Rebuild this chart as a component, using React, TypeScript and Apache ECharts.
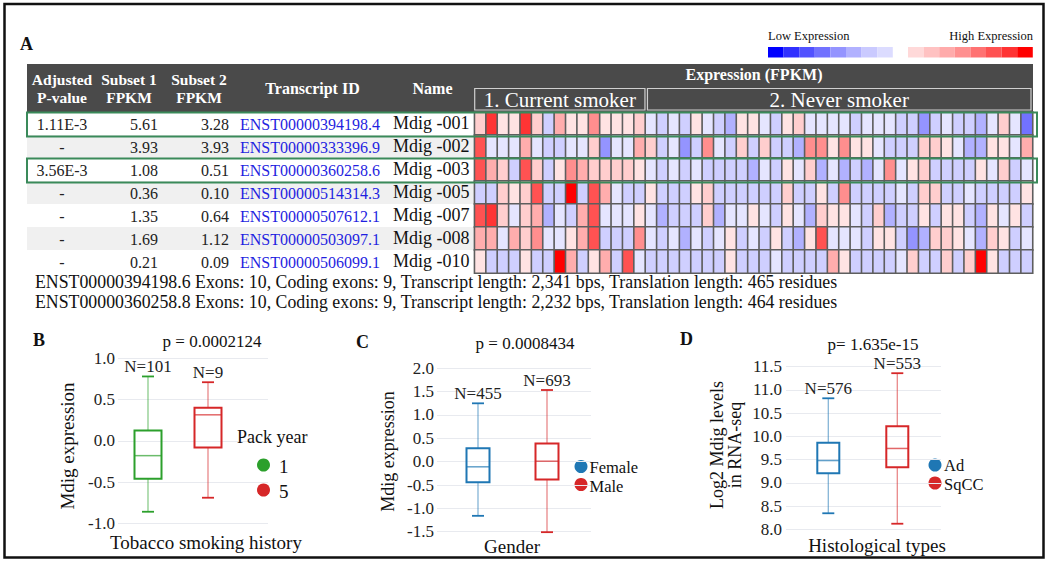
import React, { useEffect, useRef } from 'react';
import * as echarts from 'echarts';

// ---------- Panel A: table ----------
const pValues = ['1.11E-3', '-', '3.56E-3', '-', '-', '-', '-'];
const subset1Fpkm = ['5.61', '3.93', '1.08', '0.36', '1.35', '1.69', '0.21'];
const subset2Fpkm = ['3.28', '3.93', '0.51', '0.10', '0.64', '1.12', '0.09'];
const transcriptIds = [
  'ENST00000394198.4', 'ENST00000333396.9', 'ENST00000360258.6', 'ENST00000514314.3',
  'ENST00000507612.1', 'ENST00000503097.1', 'ENST00000506099.1',
];
const transcriptNames = ['Mdig -001', 'Mdig -002', 'Mdig -003', 'Mdig -005', 'Mdig -007', 'Mdig -008', 'Mdig -010'];
const highlightedRows = [0, 2];
const groupLabels = ['1. Current smoker', '2. Never smoker'];
const groupSizes = [15, 34];
const noteLines = [
  'ENST00000394198.6 Exons: 10, Coding exons: 9, Transcript length: 2,341 bps, Translation length: 465 residues',
  'ENST00000360258.8 Exons: 10, Coding exons: 9, Transcript length: 2,232 bps, Translation length: 464 residues',
];

// expression level per sample (negative = low / blue, positive = high / red)
const levels001 = [2, 6, 1, 1, 6, 2, -1, 3, 1, 1, 4, 1, 1, 1, 2, 0, -1, 0, -1, 1, 0, -1, -2, 1, 1, 0, -1, 1, 2, 0, 0, 0, 0, -1, 0, 0, 0, -1, -1, -3, -1, 0, -1, -1, -2, 0, 2, 0, -4];
const levels002 = [5, 0, 0, 0, 3, 0, -1, -1, 0, 0, 2, -3, 0, 0, 3, 2, -1, 0, -3, -1, 4, 0, -1, 2, -1, 2, -1, -1, -2, 4, 4, 1, 4, 1, 1, 0, -1, -1, -1, 2, 2, 1, 0, -2, -2, 1, 1, 0, 3];
const levels003 = [5, 3, 2, -1, 5, 2, -1, 1, 4, 3, 2, 2, 2, 2, 1, 0, -1, 0, -1, 0, -1, -1, -1, -1, -2, 0, -1, 1, 0, 2, -2, 0, -2, -1, -2, 0, 4, 0, 1, 2, -1, -1, -1, -1, 1, 0, 2, -1, 0];
const levels005 = [-1, -1, 2, 1, 2, 5, -1, -1, 7, -1, 5, 3, 0, -1, -1, 1, -1, -1, -1, 1, 2, -1, -1, -1, -1, -1, -1, 2, -1, -1, 1, -1, 4, -1, -1, -1, -1, 0, -1, 2, 2, -1, -1, 0, -1, -1, -1, -1, 1];
const levels007 = [5, 6, 2, 0, 2, 3, -2, 0, -1, 3, 5, 0, 0, 0, 1, 0, -2, -1, -1, -1, 2, -2, 0, 0, 1, 0, -1, 1, 0, -2, 2, 1, 1, 0, -1, 2, -2, -1, -1, 1, -1, 1, 1, -1, -2, 1, 0, 1, -1];
const levels008 = [3, 3, 0, 3, 2, 4, 0, 0, 1, 3, 5, -1, -1, -1, 4, 0, -1, 0, -2, 0, -1, 0, 1, -1, 0, -1, 1, -1, -2, 1, 5, 0, 0, 0, -1, 1, 1, -1, -3, -2, 2, 2, 1, 0, -2, 2, 1, -1, 0];
const levels010 = [1, -1, -1, -1, 1, -1, -1, 7, 3, -1, 1, 3, -1, 5, 0, -1, -1, -1, -1, -1, -1, -1, 1, -1, -1, -1, 0, -1, -1, -1, -1, 3, 1, -1, -1, -1, -1, 0, 2, -1, -1, 2, -1, 2, 7, 1, -1, -1, -1];
const heatRows = [levels001, levels002, levels003, levels005, levels007, levels008, levels010];

const levelValues = [-4, -3, -2, -1, 0, 1, 2, 3, 4, 5, 6, 7];
const levelColors = ['#7272ff', '#9494ff', '#b1b1ff', '#cfcfff', '#e5e5ff', '#ffe3e3', '#ffcece', '#ffadad', '#ff8e8e', '#ff5252', '#ff3434', '#ff0000'];
const legendLow = ['#0000ff', '#3030ff', '#5252ff', '#7272ff', '#9494ff', '#b1b1ff', '#cacaff', '#dcdcff'];
const legendHigh = ['#ffd9d9', '#ffc2c2', '#ffabab', '#ff9090', '#ff7272', '#ff5252', '#ff3333', '#ff0000'];

// ---------- Panel B ----------
const bCategories = ['1', '5'];
const bBoxes = [
  [-0.86, -0.46, -0.18, 0.125, 0.78],
  [-0.69, -0.08, 0.315, 0.40, 0.71],
];
const bCounts = [101, 9];
const bTicks = { min: -1, max: 1, interval: 0.5 };

// ---------- Panel C ----------
const cCategories = ['Female', 'Male'];
const cBoxes = [
  [-1.16, -0.44, -0.11, 0.285, 1.25],
  [-1.51, -0.38, 0.01, 0.39, 1.535],
];
const cCounts = [455, 693];
const cTicks = { min: -1.5, max: 2, interval: 0.5 };

// ---------- Panel D ----------
const dCategories = ['Ad', 'SqCC'];
const dBoxes = [
  [8.345, 9.205, 9.48, 9.865, 10.82],
  [8.12, 9.335, 9.74, 10.22, 11.36],
];
const dCounts = [576, 553];
const dTicks = { min: 8, max: 11.5, interval: 0.5 };

const FONT = '"Liberation Serif", "Times New Roman", serif';
const GREEN = '#2ca02c';
const RED = '#d62728';
const BLUE = '#1f77b4';

function boxSeries(axisIdx: number, boxes: number[][], counts: number[], colors: string[], boxW: number) {
  return {
    type: 'custom',
    xAxisIndex: axisIdx,
    yAxisIndex: axisIdx,
    data: boxes.map((b, i) => [i, ...b]),
    encode: { x: 0, y: [1, 2, 3, 4, 5] },
    renderItem: (params: any, api: any) => {
      const i = params.dataIndex;
      const c = colors[i];
      const yOf = (k: number) => api.coord([api.value(0), api.value(k)])[1];
      const cx = api.coord([api.value(0), api.value(3)])[0];
      const yMin = yOf(1), yQ1 = yOf(2), yMed = yOf(3), yQ3 = yOf(4), yMax = yOf(5);
      const h = boxW / 2;
      const light = { stroke: c, lineWidth: 1.3, opacity: 0.55 };
      const solid = { stroke: c, lineWidth: 1.8 };
      return {
        type: 'group',
        children: [
          { type: 'line', shape: { x1: cx, y1: yMax, x2: cx, y2: yQ3 }, style: light },
          { type: 'line', shape: { x1: cx, y1: yQ1, x2: cx, y2: yMin }, style: light },
          { type: 'line', shape: { x1: cx - 6, y1: yMax, x2: cx + 6, y2: yMax }, style: solid },
          { type: 'line', shape: { x1: cx - 6, y1: yMin, x2: cx + 6, y2: yMin }, style: solid },
          { type: 'rect', shape: { x: cx - h, y: yQ3, width: boxW, height: yQ1 - yQ3 }, style: { fill: 'none', stroke: c, lineWidth: 2 } },
          { type: 'line', shape: { x1: cx - h, y1: yMed, x2: cx + h, y2: yMed }, style: { stroke: c, lineWidth: 1.5, opacity: 0.7 } },
          { type: 'text', style: { text: 'N=' + counts[i], x: cx, y: yMax - 10, align: 'center', verticalAlign: 'middle', font: `17px ${FONT}`, fill: '#222' } },
        ],
      };
    },
  };
}

function valueAxis(gridIndex: number, t: { min: number; max: number; interval: number }, showLabels: boolean, margin: number) {
  return {
    type: 'value',
    gridIndex,
    min: t.min,
    max: t.max,
    interval: t.interval,
    axisLine: { show: false },
    axisTick: { show: false },
    axisLabel: {
      show: showLabels,
      margin,
      formatter: (v: number) => v.toFixed(1),
      fontFamily: FONT,
      fontSize: 17,
      color: '#222',
    },
    splitLine: { show: showLabels, lineStyle: { color: '#e8eaef', width: 1 } },
  };
}

function t(text: string, x: number, y: number, size: number, opts: any = {}) {
  return {
    type: 'text',
    x,
    y,
    rotation: opts.rotation || 0,
    z: 20,
    style: {
      text,
      x: 0,
      y: 0,
      font: `${opts.bold ? 'bold ' : ''}${size}px ${FONT}`,
      fill: opts.fill || '#111',
      align: opts.align || 'left',
      verticalAlign: 'middle',
      lineHeight: opts.lineHeight,
    },
  };
}

export default function App() {
  const ref = useRef<HTMLDivElement>(null);

  useEffect(() => {
    if (!ref.current) return;
    const chart = echarts.init(ref.current, undefined, { renderer: 'svg' });

    const heatLeft = 474.7;
    const heatTop = 112;
    const heatW = 557.8;
    const rowH = 23;
    const nCols = heatRows[0].length;
    const cellW = heatW / nCols;

    const heatData: number[][] = [];
    heatRows.forEach((row, r) => row.forEach((v, c) => heatData.push([c, r, v])));

    const g: any[] = [];
    // outer frame
    g.push({ type: 'rect', z: 30, shape: { x: 4.5, y: 4, width: 1039, height: 553.5 }, style: { fill: 'none', stroke: '#111', lineWidth: 2.5 } });
    // panel letters
    g.push(t('A', 20, 44, 18, { bold: true }));
    g.push(t('B', 33, 340, 18, { bold: true }));
    g.push(t('C', 356, 342, 18, { bold: true }));
    g.push(t('D', 680, 339, 18, { bold: true }));

    // expression legend
    g.push(t('Low Expression', 768, 35.5, 12.5));
    g.push(t('High Expression', 1033, 35.5, 12.5, { align: 'right' }));
    legendLow.forEach((c, i) => g.push({ type: 'rect', shape: { x: 768 + i * 15.6, y: 47, width: 15.6, height: 10.5 }, style: { fill: c } }));
    legendHigh.forEach((c, i) => g.push({ type: 'rect', shape: { x: 908 + i * 15.6, y: 47, width: 15.6, height: 10.5 }, style: { fill: c } }));

    // header band
    g.push({ type: 'rect', shape: { x: 27, y: 64, width: 1006, height: 48 }, style: { fill: '#4a4a4a' } });
    const hw = { bold: true, fill: '#fff', align: 'center' };
    g.push(t('Adjusted', 62, 79, 15.5, hw));
    g.push(t('P-value', 62, 97.5, 15.5, hw));
    g.push(t('Subset 1', 129, 79, 15.5, hw));
    g.push(t('FPKM', 129, 97.5, 15.5, hw));
    g.push(t('Subset 2', 199, 79, 15.5, hw));
    g.push(t('FPKM', 199, 97.5, 15.5, hw));
    g.push(t('Transcript ID', 312.5, 88, 16, hw));
    g.push(t('Name', 432.5, 88, 16, hw));
    g.push(t('Expression (FPKM)', 754, 74.5, 16, hw));
    let gx = heatLeft;
    groupSizes.forEach((n, i) => {
      const w = n * cellW;
      const x0 = i === 0 ? gx : gx + 2;
      const x1 = i === groupSizes.length - 1 ? gx + w - 1.5 : gx + w - 0.5;
      g.push({ type: 'rect', shape: { x: x0, y: 88.5, width: x1 - x0, height: 21.5 }, style: { fill: '#4a4a4a', stroke: '#cfcfcf', lineWidth: 1.2 } });
      g.push(t(groupLabels[i], (x0 + x1) / 2, 99.5, 21, { fill: '#fff', align: 'center' }));
      gx += w;
    });

    // table rows
    transcriptIds.forEach((id, i) => {
      const top = heatTop + i * rowH;
      const cy = top + rowH / 2 + 0.5;
      if (i % 2 === 1) g.push({ type: 'rect', shape: { x: 27, y: top, width: heatLeft - 27, height: rowH }, style: { fill: '#f0f0f0' } });
      g.push(t(pValues[i], 62, cy, 16, { align: 'center', fill: '#222' }));
      g.push(t(subset1Fpkm[i], 158, cy, 16, { align: 'right', fill: '#222' }));
      g.push(t(subset2Fpkm[i], 229, cy, 16, { align: 'right', fill: '#222' }));
      g.push(t(id, 240, cy, 16, { fill: '#1f1fe0' }));
      g.push(t(transcriptNames[i], 393, cy - 1, 18, { fill: '#111' }));
    });
    highlightedRows.forEach((r) => {
      g.push({ type: 'rect', z: 25, shape: { x: 27, y: heatTop + r * rowH + 0.5, width: 1010, height: rowH + 1 }, style: { fill: 'none', stroke: '#3a8a5a', lineWidth: 2 } });
    });
    noteLines.forEach((line, i) => g.push(t(line, 35, 282 + i * 20, 17.8, { fill: '#111' })));

    // panel B texts
    g.push(t('p = 0.0002124', 212, 341, 17, { align: 'center' }));
    g.push(t('Mdig expression', 67, 446, 19, { align: 'center', rotation: Math.PI / 2 }));
    g.push(t('Tobacco smoking history', 206, 542, 19, { align: 'center' }));
    g.push(t('Pack year', 237, 437, 18));
    g.push({ type: 'circle', shape: { cx: 263.5, cy: 465, r: 6.5 }, style: { fill: GREEN } });
    g.push({ type: 'circle', shape: { cx: 263.5, cy: 490, r: 6.5 }, style: { fill: RED } });
    g.push(t(bCategories[0], 279, 466, 19));
    g.push(t(bCategories[1], 279, 491, 19));

    // panel C texts
    g.push(t('p = 0.0008434', 525, 343, 17, { align: 'center' }));
    g.push(t('Mdig expression', 388, 451.5, 18, { align: 'center', rotation: Math.PI / 2 }));
    g.push(t('Gender', 512, 546.5, 19, { align: 'center' }));
    g.push({ type: 'circle', shape: { cx: 581, cy: 466.5, r: 6.5 }, style: { fill: BLUE } });
    g.push({ type: 'circle', shape: { cx: 581, cy: 484.5, r: 6.5 }, style: { fill: RED } });
    g.push(t(cCategories[0], 589.5, 467.5, 16.5));
    g.push(t(cCategories[1], 589.5, 486, 16.5));

    // panel D texts
    g.push(t('p= 1.635e-15', 873, 344, 17, { align: 'center' }));
    g.push(t('Log2 Mdig levels\nin RNA-seq', 726, 445, 18, { align: 'center', rotation: Math.PI / 2, lineHeight: 18 }));
    g.push(t('Histological types', 877, 545, 19, { align: 'center' }));
    g.push({ type: 'circle', shape: { cx: 935, cy: 465, r: 6.5 }, style: { fill: BLUE } });
    g.push({ type: 'circle', shape: { cx: 935, cy: 483, r: 6.5 }, style: { fill: RED } });
    g.push(t(dCategories[0], 944, 465.5, 16.5));
    g.push(t(dCategories[1], 944, 484, 16.5));

    const gridBase = { outerBoundsMode: 'none', containLabel: false };
    const option: any = {
      animation: false,
      backgroundColor: '#ffffff',
      grid: [
        { ...gridBase, left: heatLeft, top: heatTop, width: heatW, height: rowH * heatRows.length },
        // B
        { ...gridBase, left: 118, top: 358.3, width: 150, height: 165 },
        { ...gridBase, left: 118, top: 358.3, width: 120, height: 165 },
        // C
        { ...gridBase, left: 437, top: 368.3, width: 154, height: 163.4 },
        { ...gridBase, left: 443.5, top: 368.3, width: 138, height: 163.4 },
        // D
        { ...gridBase, left: 786, top: 366.7, width: 155, height: 162.6 },
        { ...gridBase, left: 793.8, top: 366.7, width: 138, height: 162.6 },
      ],
      xAxis: [
        { type: 'category', gridIndex: 0, data: heatRows[0].map((_, i) => String(i + 1)), show: false },
        { type: 'value', gridIndex: 1, min: 0, max: 1, show: false },
        { type: 'category', gridIndex: 2, data: bCategories, show: false },
        { type: 'value', gridIndex: 3, min: 0, max: 1, show: false },
        { type: 'category', gridIndex: 4, data: cCategories, show: false },
        { type: 'value', gridIndex: 5, min: 0, max: 1, show: false },
        { type: 'category', gridIndex: 6, data: dCategories, show: false },
      ],
      yAxis: [
        { type: 'category', gridIndex: 0, data: transcriptNames, inverse: true, show: false },
        valueAxis(1, bTicks, true, 3),
        valueAxis(2, bTicks, false, 3),
        valueAxis(3, cTicks, true, 3),
        valueAxis(4, cTicks, false, 3),
        valueAxis(5, dTicks, true, 4),
        valueAxis(6, dTicks, false, 4),
      ],
      visualMap: {
        type: 'piecewise',
        show: false,
        dimension: 2,
        seriesIndex: 0,
        pieces: levelValues.map((v, i) => ({ value: v, color: levelColors[i] })),
      },
      series: [
        {
          type: 'heatmap',
          xAxisIndex: 0,
          yAxisIndex: 0,
          data: heatData,
          itemStyle: { borderColor: '#5e5e5e', borderWidth: 1.6 },
          emphasis: { disabled: true },
        },
        boxSeries(2, bBoxes, bCounts, [GREEN, RED], 27),
        boxSeries(4, cBoxes, cCounts, [BLUE, RED], 23),
        boxSeries(6, dBoxes, dCounts, [BLUE, RED], 22),
      ],
      graphic: { elements: g },
    };

    chart.setOption(option);
    return () => chart.dispose();
  }, []);

  return <div ref={ref} style={{ position: 'absolute', left: 0, top: 0, width: 1050, height: 571 }} />;
}
